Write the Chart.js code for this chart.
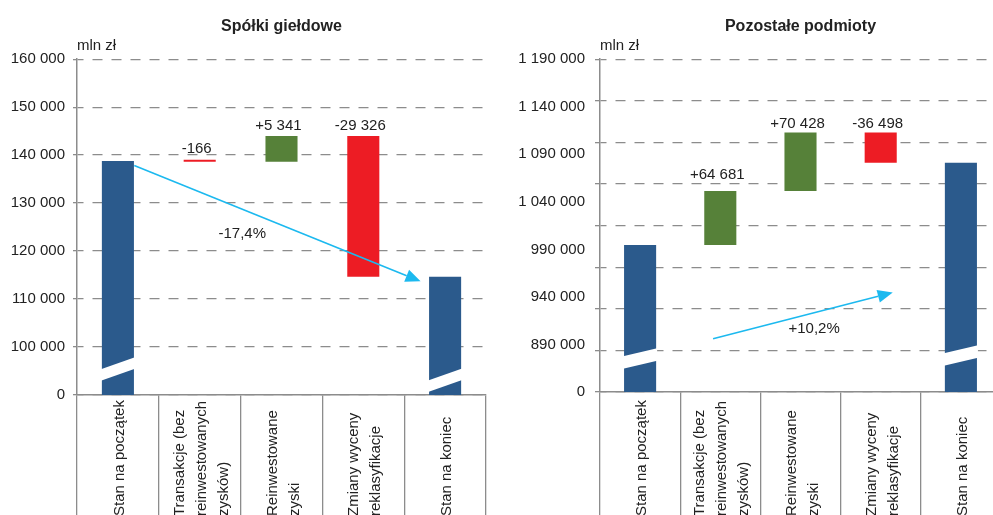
<!DOCTYPE html>
<html lang="pl">
<head>
<meta charset="UTF-8">
<title>Spółki giełdowe i pozostałe podmioty</title>
<script src="https://cdn.jsdelivr.net/npm/chart.js"></script>
<style>
  html, body { margin: 0; padding: 0; background: #fff; overflow: hidden; }
  body { width: 993px; height: 515px; position: relative; }
  .box { position: absolute; top: 0; height: 515px; }
  #left { left: 0; width: 497px; }
  #right { left: 497px; width: 510px; }
</style>
</head>
<body>
<div class="box" id="left"><canvas id="spolkiChart"></canvas></div>
<div class="box" id="right"><canvas id="pozostaleChart"></canvas></div>

<script>
const categories = [
  'Stan na początek',
  ['Transakcje (bez', 'reinwestowanych', 'zysków)'],
  ['Reinwestowane', 'zyski'],
  ['Zmiany wyceny', 'reklasyfikacje'],
  'Stan na koniec'
];

// Spółki giełdowe, mln zł
const spolkiStart = 138800;
const spolkiChanges = [-166, 5341, -29326];

// Pozostałe podmioty, mln zł
const pozostaleStart = 966800;
const pozostaleChanges = [64681, 70428, -36498];

// right axis captions are spread evenly, apart from the 50 000 gridlines
const pozostaleTickLabels = ['0', '890 000', '940 000', '990 000', '1 040 000', '1 090 000', '1 140 000', '1 190 000'];

const FONT = "'Liberation Sans', Arial, sans-serif";
const SIZE = 15;
const TEXT = '#222';
const GRID = '#8c8c8c';
const BLUE = '#2b5a8c';
const GREEN = '#568139';
const RED = '#ed1c24';
const ARROW = '#1cb9ef';

Chart.defaults.font.family = FONT;
Chart.defaults.font.size = SIZE;
Chart.defaults.color = TEXT;

function fmt(n) {
  return String(Math.abs(Math.round(n))).replace(/\B(?=(\d{3})+(?!\d))/g, ' ');
}
function signed(n) {
  return (n < 0 ? '-' : '+') + fmt(n);
}

// floating bars: totals from zero, changes from the running level
function waterfall(start, changes) {
  const bars = [[0, start]];
  const colors = [BLUE];
  let level = start;
  changes.forEach(c => {
    bars.push([level, level + c]);
    colors.push(c < 0 ? RED : GREEN);
    level += c;
  });
  bars.push([0, level]);
  colors.push(BLUE);
  return { bars, colors, end: level };
}

// breaks, value labels, arrow and category captions
const extras = {
  id: 'extras',
  afterDatasetsDraw(chart, args, opts) {
    const { ctx, scales: { x, y } } = chart;
    const meta = chart.getDatasetMeta(0);
    ctx.save();

    // white slanted gap across the total bars
    ctx.fillStyle = '#fff';
    opts.breaks.forEach(b => {
      const bar = meta.data[b.index];
      const half = bar.width / 2 + 1;
      const yc = y.getPixelForValue(b.value);
      const s = opts.breakSlope / 2, t = opts.breakGap / 2;
      ctx.beginPath();
      ctx.moveTo(bar.x - half, yc + s - t);
      ctx.lineTo(bar.x + half, yc - s - t);
      ctx.lineTo(bar.x + half, yc - s + t);
      ctx.lineTo(bar.x - half, yc + s + t);
      ctx.closePath();
      ctx.fill();
    });

    ctx.font = SIZE + 'px ' + FONT;
    ctx.fillStyle = TEXT;
    ctx.textAlign = 'center';
    ctx.textBaseline = 'alphabetic';
    opts.changes.forEach((c, i) => {
      const bar = meta.data[i + 1];
      const top = Math.min(bar.y, bar.base);
      ctx.fillText(signed(c), bar.x - 3, top - opts.labelGap[i]);
    });

    // change between start and end
    const a = opts.arrow;
    const x0 = x.getPixelForValue(a.from[0]), y0 = y.getPixelForValue(a.from[1]);
    const x1 = x.getPixelForValue(a.to[0]), y1 = y.getPixelForValue(a.to[1]);
    const ang = Math.atan2(y1 - y0, x1 - x0);
    const head = 15, w = 6.5;
    const bx = x1 - head * Math.cos(ang), by = y1 - head * Math.sin(ang);
    ctx.strokeStyle = ARROW;
    ctx.fillStyle = ARROW;
    ctx.lineWidth = 1.6;
    ctx.beginPath();
    ctx.moveTo(x0, y0);
    ctx.lineTo(bx, by);
    ctx.stroke();
    ctx.beginPath();
    ctx.moveTo(x1, y1);
    ctx.lineTo(bx - w * Math.sin(ang), by + w * Math.cos(ang));
    ctx.lineTo(bx + w * Math.sin(ang), by - w * Math.cos(ang));
    ctx.closePath();
    ctx.fill();

    const pct = (opts.end / opts.start - 1) * 100;
    const pctText = (pct < 0 ? '-' : '+') + Math.abs(pct).toFixed(1).replace('.', ',') + '%';
    ctx.fillStyle = TEXT;
    ctx.textBaseline = 'middle';
    ctx.fillText(pctText, x.getPixelForValue(a.textAt[0]), y.getPixelForValue(a.textAt[1]));

    // vertical captions under the axis, starting at the bottom edge
    ctx.textAlign = 'left';
    chart.data.labels.forEach((label, i) => {
      const lines = [].concat(label);
      const px = x.getPixelForTick(i);
      lines.forEach((ln, j) => {
        ctx.save();
        ctx.translate(px + 2 + (j - (lines.length - 1) / 2) * 22, x.bottom + 1);
        ctx.rotate(-Math.PI / 2);
        ctx.fillText(ln, 0, 0);
        ctx.restore();
      });
    });
    ctx.restore();
  }
};

function titles(text) {
  return {
    title: {
      display: true, text: text, fullSize: false, color: TEXT,
      font: { size: 16, weight: 'bold' }, padding: { top: 17, bottom: 0 }
    },
    subtitle: {
      display: true, text: 'mln zł', align: 'start', fullSize: false, color: TEXT,
      font: { size: SIZE }, padding: { top: 1, bottom: 4 }
    },
    legend: { display: false },
    tooltip: { enabled: false }
  };
}

function xAxis(tickLength) {
  return {
    type: 'category',
    offset: true,
    grid: { offset: true, drawOnChartArea: false, drawTicks: true, tickLength: tickLength, color: GRID, lineWidth: 1.3 },
    border: { display: true, color: GRID, width: 1.5 },
    ticks: { display: false }
  };
}

// ---- Spółki giełdowe ----
const spolki = waterfall(spolkiStart, spolkiChanges);

new Chart(document.getElementById('spolkiChart'), {
  type: 'bar',
  data: {
    labels: categories,
    datasets: [{
      data: spolki.bars,
      backgroundColor: spolki.colors,
      categoryPercentage: 1,
      barPercentage: 0.392,
      minBarLength: 2
    }]
  },
  options: {
    responsive: true,
    maintainAspectRatio: false,
    animation: false,
    layout: { padding: { left: 0, right: 11, top: 0, bottom: 0 } },
    scales: {
      x: xAxis(120),
      y: {
        min: 90000, max: 160000,
        afterFit: s => { s.width = 77; },
        ticks: {
          stepSize: 10000, padding: 8, color: TEXT,
          callback: v => (v === 90000 ? '0' : fmt(v))
        },
        grid: { color: GRID, lineWidth: 1.3, tickLength: 4 },
        border: { display: true, color: GRID, width: 1.5, dash: [10, 9], dashOffset: 4 }
      }
    },
    plugins: Object.assign(titles('Spółki giełdowe'), {
      extras: {
        changes: spolkiChanges,
        start: spolkiStart,
        end: spolki.end,
        labelGap: [7, 6, 6],
        breaks: [{ index: 0, value: 95400 }, { index: 4, value: 93100 }],
        breakSlope: 12, breakGap: 11.5,
        arrow: { from: [0.2, 137850], to: [3.7, 113700], textAt: [1.52, 123660] }
      }
    })
  },
  plugins: [extras]
});

// ---- Pozostałe podmioty ----
const pozostale = waterfall(pozostaleStart, pozostaleChanges);

new Chart(document.getElementById('pozostaleChart'), {
  type: 'bar',
  data: {
    labels: categories,
    datasets: [{
      data: pozostale.bars,
      backgroundColor: pozostale.colors,
      categoryPercentage: 1,
      barPercentage: 0.4,
      yAxisID: 'y'
    }]
  },
  options: {
    responsive: true,
    maintainAspectRatio: false,
    animation: false,
    layout: { padding: { left: 0, right: 6, top: 0, bottom: 0 } },
    scales: {
      x: xAxis(123),
      y: {
        position: 'left', weight: 0,
        min: 790000, max: 1190000,
        ticks: { stepSize: 50000, display: false },
        grid: { color: GRID, lineWidth: 1.3, tickLength: 5 },
        border: { display: true, color: GRID, width: 1.5, dash: [10, 9], dashOffset: 4 }
      },
      yl: {
        type: 'linear', position: 'left', weight: 1,
        min: 0, max: pozostaleTickLabels.length - 1,
        afterFit: s => { s.width = 98; },
        ticks: { stepSize: 1, padding: 10, color: TEXT, callback: v => pozostaleTickLabels[v] },
        grid: { display: false, drawTicks: false },
        border: { display: false }
      }
    },
    plugins: Object.assign(titles('Pozostałe podmioty'), {
      extras: {
        changes: pozostaleChanges,
        start: pozostaleStart,
        end: pozostale.end,
        labelGap: [12, 4.5, 4.5],
        breaks: [{ index: 0, value: 830400 }, { index: 4, value: 834000 }],
        breakSlope: 8, breakGap: 12.5,
        arrow: { from: [0.91, 854100], to: [3.15, 909600], textAt: [2.17, 865300] }
      }
    })
  },
  plugins: [extras]
});
</script>
</body>
</html>
